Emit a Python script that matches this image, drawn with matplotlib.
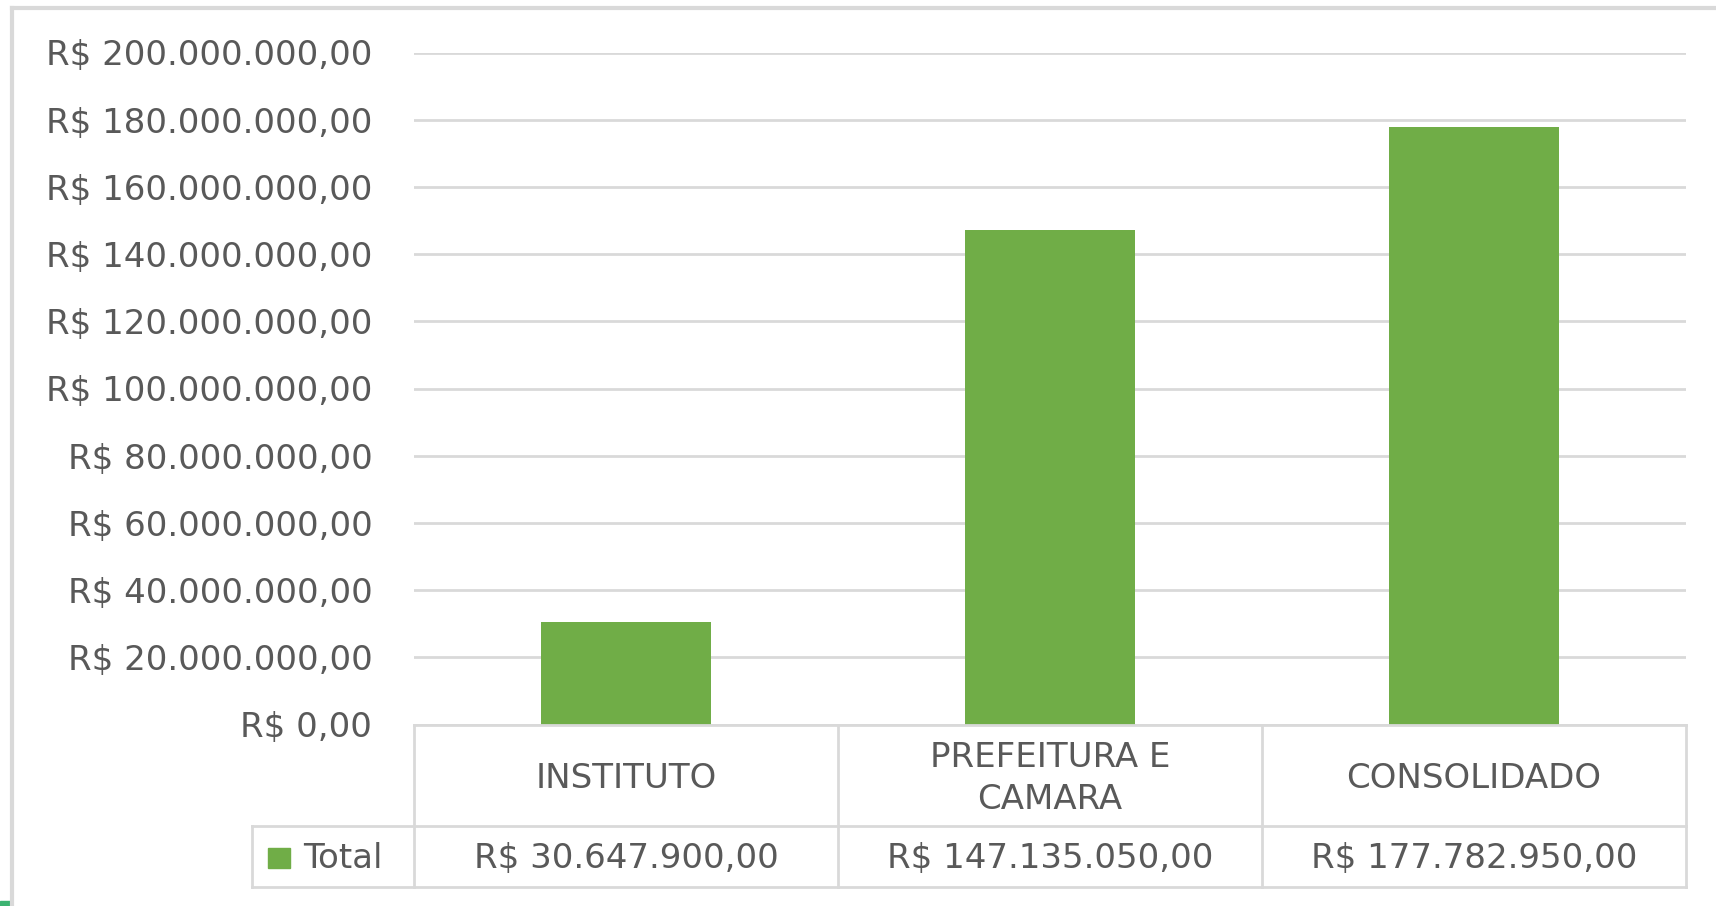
import matplotlib
matplotlib.use("Agg")
import matplotlib.pyplot as plt
from matplotlib.transforms import blended_transform_factory
from matplotlib.patches import Rectangle
from matplotlib.lines import Line2D

categories = ["INSTITUTO", "PREFEITURA E\nCAMARA", "CONSOLIDADO"]
values = [30647900.00, 147135050.00, 177782950.00]
series_name = "Total"
yticks = list(range(0, 200000001, 20000000))

W, H = 1716, 906
DPI = 100
GREEN = "#70ad47"
GRID = "#d9d9d9"
TXT = "#595959"
FS = 24.5
plt.rcParams['font.family'] = ['DejaVu Sans']


def brl(v):
    s = f"{v:,.2f}"
    s = s.replace(",", "X").replace(".", ",").replace("X", ".")
    return "R$ " + s


def fx(px):
    return px / W


def fy(py):
    return 1 - py / H


fig = plt.figure(figsize=(W / DPI, H / DPI), dpi=DPI)
fig.patch.set_facecolor("white")

# plot area in pixel coords
L, R, T, B = 414, 1686, 52.5, 724.5
ax = fig.add_axes([fx(L), fy(B), fx(R) - fx(L), fy(T) - fy(B)])
x = list(range(len(categories)))
ax.bar(x, values, width=0.4, color=GREEN, zorder=3)
ax.set_xlim(-0.5, len(categories) - 0.5)
ax.set_ylim(0, 200000000)
ax.set_yticks(yticks)
ax.set_yticklabels([brl(v) for v in yticks], fontsize=FS, color=TXT)
ax.tick_params(axis="y", length=0, pad=30)
ax.set_xticks([])
for sp in ax.spines.values():
    sp.set_visible(False)
ax.grid(axis="y", color=GRID, linewidth=2.0, zorder=0)
ax.set_axisbelow(True)

# data table
tr = blended_transform_factory(ax.transData, fig.transFigure)
y_top, y_mid, y_bot = 724.5, 826, 886.5
lw = 2.0
bounds = [-0.5 + i for i in range(len(categories) + 1)]
for yy in (y_top, y_mid, y_bot):
    fig.add_artist(Line2D([bounds[0], bounds[-1]], [fy(yy), fy(yy)], transform=tr,
                          color=GRID, lw=lw, zorder=5))
for b in bounds:
    fig.add_artist(Line2D([b, b], [fy(y_top), fy(y_bot)], transform=tr,
                          color=GRID, lw=lw, zorder=5))
lx = 252
fig.add_artist(Line2D([fx(lx), fx(L)], [fy(y_mid), fy(y_mid)], transform=fig.transFigure,
                      color=GRID, lw=lw))
fig.add_artist(Line2D([fx(lx), fx(L)], [fy(y_bot), fy(y_bot)], transform=fig.transFigure,
                      color=GRID, lw=lw))
fig.add_artist(Line2D([fx(lx), fx(lx)], [fy(y_mid), fy(y_bot)], transform=fig.transFigure,
                      color=GRID, lw=lw))

for i, (c, v) in enumerate(zip(categories, values)):
    fig.text(i, fy((y_top + y_mid) / 2 + 3), c, transform=tr, ha="center", va="center",
             fontsize=FS, color=TXT, linespacing=1.35)
    fig.text(i, fy((y_mid + y_bot) / 2 + 2), brl(v), transform=tr, ha="center", va="center",
             fontsize=FS, color=TXT)

# legend key
fig.add_artist(Rectangle((fx(268), fy(868)), fx(22), fy(848) - fy(868), transform=fig.transFigure,
                         color=GREEN))
fig.text(fx(303), fy((y_mid + y_bot) / 2 + 2), series_name, ha="left", va="center",
         fontsize=FS, color=TXT)

# chart border (left and top visible)
fig.add_artist(Line2D([fx(12), fx(12)], [fy(8), 0], transform=fig.transFigure, color=GRID, lw=3))
fig.add_artist(Line2D([fx(12), 1], [fy(8), fy(8)], transform=fig.transFigure, color=GRID, lw=3))
fig.add_artist(Rectangle((0, 0), fx(10), 1 - fy(5), transform=fig.transFigure, color="#3cb371"))

fig.savefig("out.png", dpi=DPI, facecolor="white")
